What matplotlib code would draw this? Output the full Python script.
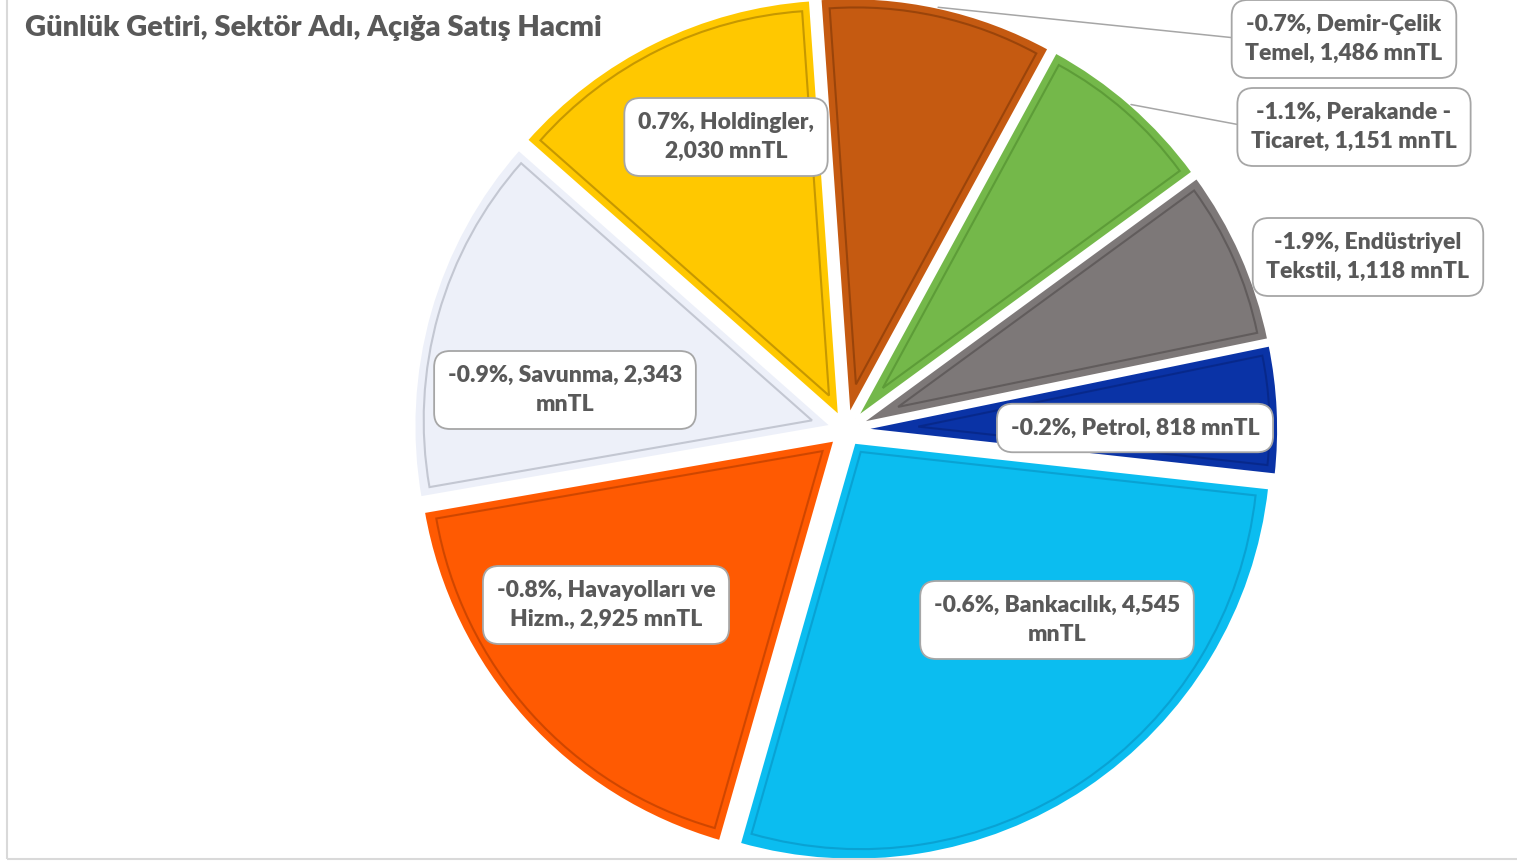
import textwrap
import numpy as np
import matplotlib
matplotlib.use("Agg")
import matplotlib.pyplot as plt
from matplotlib.patches import Wedge, Rectangle

# ---------------- data ----------------
sectors = ["Demir-Çelik Temel", "Perakande - Ticaret", "Endüstriyel Tekstil", "Petrol",
           "Bankacılık", "Havayolları ve Hizm.", "Savunma", "Holdingler"]
daily_return = [-0.7, -1.1, -1.9, -0.2, -0.6, -0.8, -0.9, 0.7]
short_volume = [1486, 1151, 1118, 818, 4545, 2925, 2343, 2030]
title = "Günlük Getiri, Sektör Adı, Açığa Satış Hacmi"

# ---------------- style ----------------
slice_colors = ["#C55A11", "#74B84A", "#7D7878", "#0A33A6",
                "#0BBDF0", "#FF5A02", "#EDF0F9", "#FFC800"]
bevel_colors = ["#7E3606", "#4E8A2C", "#4F4A4A", "#06227A",
                "#0890C0", "#B03A00", "#A8ACB8", "#A07800"]
wrap_widths = [18, 19, 19, 30, 24, 21, 21, 17]
# label box centres (pixels) – layout only
label_px = [(1344, 39), (1354, 127), (1368, 257), (1135, 428),
            (1057, 620), (606, 605), (565, 390), (726, 137)]
leader = [True, True, False, False, False, False, False, False]

W, H = 1517, 861
CX, CY, R = 846, 430, 418
TXT = "#595959"
FONT = "Lato"
LFS = 16.5

fig = plt.figure(figsize=(W / 100, H / 100), dpi=100)
ax = fig.add_axes([0, 0, 1, 1])

explode = [0.035] * len(short_volume)
wedges, _ = ax.pie(short_volume, colors=slice_colors, explode=explode, startangle=94,
                   counterclock=False, radius=1.0,
                   wedgeprops=dict(edgecolor="white", linewidth=2.2))
ax.set_aspect("auto")
ax.set_xlim(-CX / R, (W - CX) / R)
ax.set_ylim(-(H - CY) / R, CY / R)
ax.axis("off")

# inner bevel outline for each slice (derived from wedge geometry)
d = 9 / R
for w, bc in zip(wedges, bevel_colors):
    t1, t2 = w.theta1, w.theta2
    h = np.radians((t2 - t1) / 2)
    mid = np.radians((t1 + t2) / 2)
    s = d / np.sin(h)
    cx0, cy0 = w.center
    c = (cx0 + s * np.cos(mid), cy0 + s * np.sin(mid))
    r2 = w.r - d - s
    ax.add_patch(Wedge(c, r2, t1, t2, fill=False, edgecolor=bc, linewidth=1.5, alpha=0.6))

# labels
for i, w in enumerate(wedges):
    text = f"{daily_return[i]:.1f}%, {sectors[i]}, {short_volume[i]:,} mnTL"
    text = textwrap.fill(text, wrap_widths[i], break_on_hyphens=False)
    px, py = label_px[i]
    pos = ((px - CX) / R, (CY - py) / R)
    bbox = dict(boxstyle="round,pad=0.6,rounding_size=0.7", fc="white",
                ec="#A6A6A6", lw=1.3)
    kw = dict(ha="center", va="center", fontsize=LFS, fontweight="heavy", color=TXT,
              family=FONT, linespacing=1.5, bbox=bbox)
    if leader[i]:
        mid = np.radians((w.theta1 + w.theta2) / 2)
        pt = (w.center[0] + w.r * np.cos(mid), w.center[1] + w.r * np.sin(mid))
        ax.annotate(text, xy=pt, xytext=pos,
                    arrowprops=dict(arrowstyle="-", color="#A6A6A6", lw=1.1,
                                    shrinkA=0, shrinkB=0, relpos=(0, 0.5)), **kw)
    else:
        ax.text(pos[0], pos[1], text, **kw)

fig.text(25 / W, 1 - 28 / H, title, ha="left", va="center", fontsize=21,
         fontweight="heavy", color=TXT, family=FONT)

# chart frame (cropped at top/right)
fig.patches.append(Rectangle((7 / W, 2 / H), 1.2, 1.2, transform=fig.transFigure,
                             fill=False, edgecolor="#D9D9D9", linewidth=1.5))

fig.savefig("out.png", dpi=100, facecolor="white")
